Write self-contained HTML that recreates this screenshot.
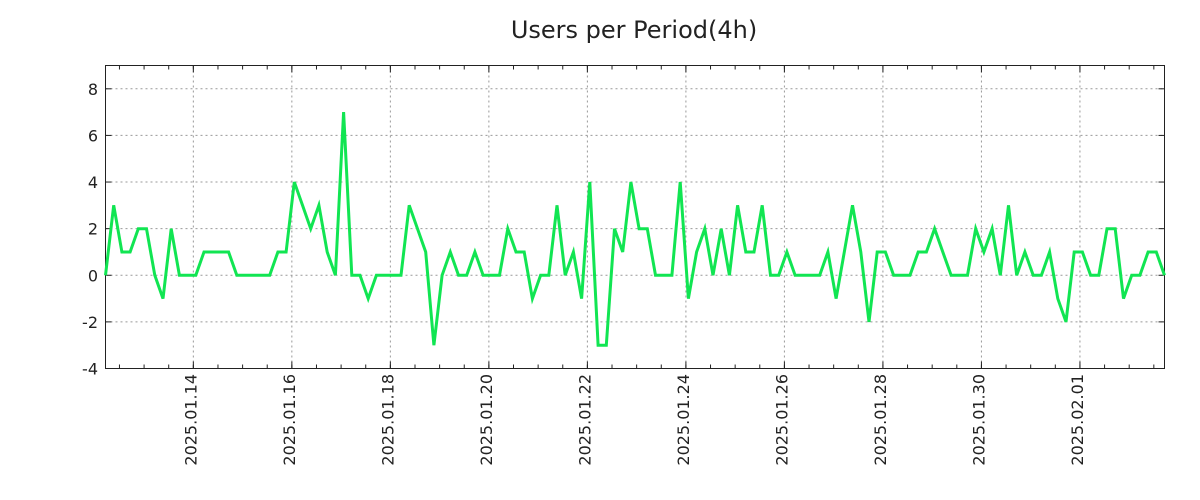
<!DOCTYPE html>
<html><head><meta charset="utf-8"><style>
html,body{margin:0;padding:0;background:#fff;}
svg{display:block;font-family:"DejaVu Sans","Liberation Sans",sans-serif;}
</style></head><body>
<svg id="chart" width="1200" height="500">
<rect width="1200" height="500" fill="#fff"/>
<text x="634" y="38" text-anchor="middle" font-size="24" fill="#222">Users per Period(4h)</text>
<g id="grid"></g><g id="axes"></g><g id="series"></g>
</svg>
<script>
const values = [0,3,1,1,2,2,0,-1,2,0, 0,0,1,1,1,1,0,0,0,0, 0,1,1,4,3,2,3,1,0,7, 0,0,-1,0,0,0,0,3,2,1,
 -3,0,1,0,0,1,0,0,0,2, 1,1,-1,0,0,3,0,1,-1,4, -3,-3,2,1,4,2,2,0,0,0, 4,-1,1,2,0,2,0,3,1,1,
 3,0,0,1,0,0,0,0,1,-1, 1,3,1,-2,1,1,0,0,0,1, 1,2,1,0,0,0,2,1,2,0, 3,0,1,0,0,1,-1,-2,1,1,
 0,0,2,2,-1,0,0,1,1,0];
const startHours = -42.8; // first sample, hours relative to 2025-01-14 00:00
const periodHours = 4;
const xTickLabels = ["2025.01.14","2025.01.16","2025.01.18","2025.01.20","2025.01.22","2025.01.24","2025.01.26","2025.01.28","2025.01.30","2025.02.01"];
const yTicks = [-4,-2,0,2,4,6,8];
const yMin=-4, yMax=9;
const L=105.5,R=1164.5,T=65.5,B=368.5;
const tEnd = startHours + (values.length-1)*periodHours;
const X = h => L + (h-startHours)/(tEnd-startHours)*(R-L);
const Y = v => B - (v-yMin)/(yMax-yMin)*(B-T);
const NS="http://www.w3.org/2000/svg";
function mk(tag,attrs,parent){const e=document.createElementNS(NS,tag);for(const k in attrs)e.setAttribute(k,attrs[k]);parent.appendChild(e);return e;}
const grid=document.getElementById('grid'),axes=document.getElementById('axes'),series=document.getElementById('series');
yTicks.forEach(v=>{const y=Y(v);
 if(v>yMin){const g=mk('line',{x1:L,x2:R,y1:y,y2:y,stroke:'#999','stroke-dasharray':'2,3','stroke-width':1},grid);
 
 }
 mk('line',{x1:L,x2:L+6,y1:y,y2:y,stroke:'#222'},axes);
 mk('line',{x1:R-6,x2:R,y1:y,y2:y,stroke:'#222'},axes);
 const t=mk('text',{x:98,y:y+6,'text-anchor':'end','font-size':16,fill:'#222'},axes);t.textContent=v;
 
 
});
for(let h=Math.ceil(startHours/12)*12;h<=tEnd;h+=12){const x=X(h);
 mk('line',{x1:x,x2:x,y1:B,y2:B-4,stroke:'#222'},axes);mk('line',{x1:x,x2:x,y1:T,y2:T+4,stroke:'#222'},axes);}
xTickLabels.forEach((lab,i)=>{const x=X(i*48);
 const g=mk('line',{x1:x,x2:x,y1:T,y2:B,stroke:'#999','stroke-dasharray':'2,3','stroke-width':1},grid);
 
 
 mk('line',{x1:x,x2:x,y1:B,y2:B-7,stroke:'#222'},axes);mk('line',{x1:x,x2:x,y1:T,y2:T+7,stroke:'#222'},axes);
 const t=mk('text',{x:0,y:0,'text-anchor':'end','font-size':16,fill:'#222',transform:`translate(${x+3},374) rotate(-90)`},axes);t.textContent=lab;
 
 
});
const frame=mk('rect',{x:L,y:T,width:R-L,height:B-T,fill:'none',stroke:'#222','stroke-width':1},axes);


const pts=values.map((v,i)=>X(startHours+i*periodHours).toFixed(1)+','+Y(v).toFixed(1)).join(' ');
const line=mk('polyline',{points:pts,fill:'none',stroke:'#11e552','stroke-width':3,'stroke-linejoin':'miter'},series);


</script>
</body></html>
